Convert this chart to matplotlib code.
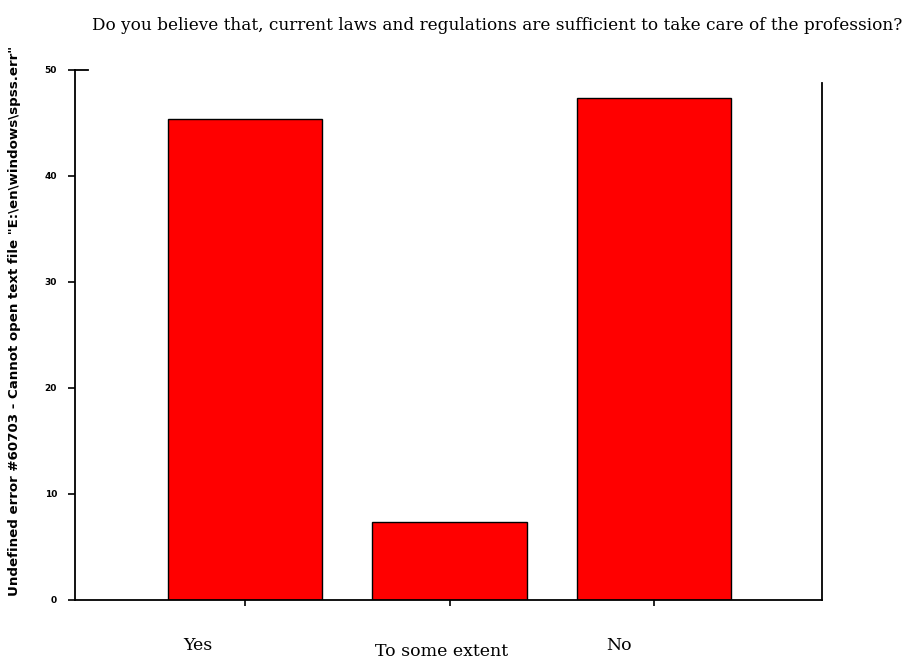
import numpy as np
import matplotlib.pyplot as plt
import matplotlib.transforms as mtransforms

# data
categories = ['Yes', 'To some extent', 'No']
values = [45.4, 7.4, 47.4]
yticks = [0, 10, 20, 30, 40, 50]

title = 'Do you believe that, current laws and regulations are sufficient to take care of the profession?'
ylabel = 'Undefined error #60703 - Cannot open text file "E:\\en\\windows\\spss.err"'

fig = plt.figure(figsize=(9.08, 6.61), dpi=100)
ax = fig.add_axes([0.0826, 0.0923, 0.8227, 0.8018])

x = np.arange(len(categories))
ax.bar(x, values, width=0.755, color='#ff0000', edgecolor='black', linewidth=1.0)

ax.set_xlim(-0.83, 2.82)
ax.set_ylim(0, 50)

ax.spines['top'].set_visible(False)
ax.spines['right'].set_bounds(0, 48.8)
for s in ['left', 'bottom', 'right']:
    ax.spines[s].set_linewidth(1.3)

ax.set_yticks(yticks)
ax.set_yticklabels([str(t) for t in yticks], fontsize=6.5, fontweight='bold')
ax.tick_params(axis='y', direction='out', length=5, width=1.2, pad=8)
ax.set_xticks(x)
ax.set_xticklabels([])
ax.tick_params(axis='x', direction='out', length=4, width=1.2)

# the 50 tick pokes into the plot
trans = ax.get_yaxis_transform()
ax.plot([0, 0.018], [50, 50], color='black', lw=1.3, transform=trans, clip_on=False)

# category names sit left of their ticks
blend = mtransforms.blended_transform_factory(ax.transData, ax.transAxes)
label_dx = [-0.23, -0.04, -0.17]
label_y = [-0.085, -0.097, -0.085]
for i, name in enumerate(categories):
    ax.text(x[i] + label_dx[i], label_y[i], name, transform=blend, ha='center', va='center',
            fontsize=12.5, family='DejaVu Serif')

fig.text(0.548, 0.962, title, ha='center', va='center', fontsize=12.2, family='DejaVu Serif')
fig.text(0.0155, 0.514, ylabel, rotation=90, ha='center', va='center', fontsize=9.6,
         fontweight='bold', family='DejaVu Sans')

fig.savefig('out.png', dpi=100)
